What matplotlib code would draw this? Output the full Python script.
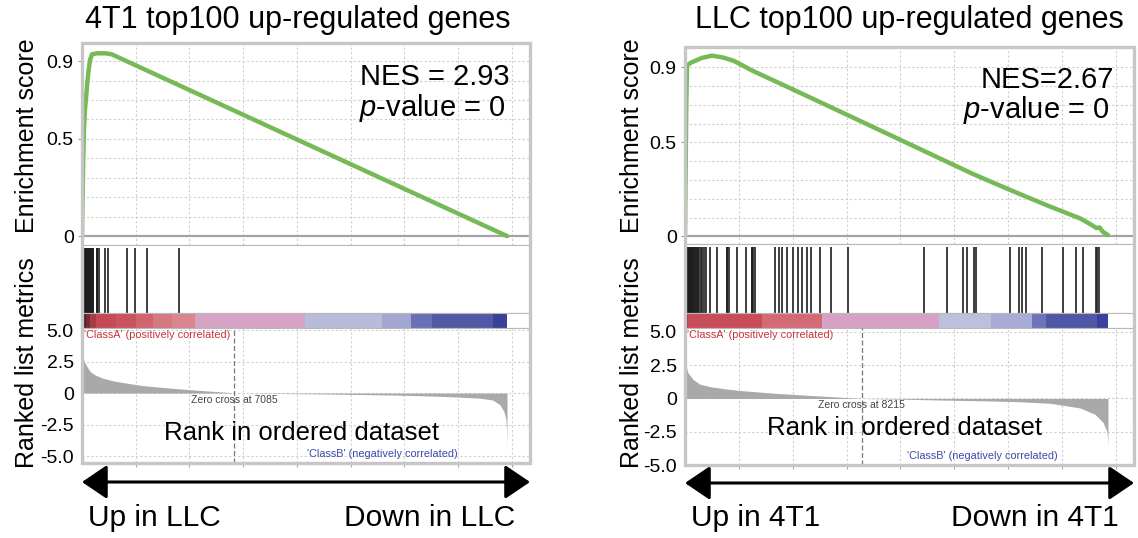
import matplotlib
matplotlib.use("Agg")
import matplotlib.pyplot as plt
from matplotlib.patches import FancyArrowPatch, Rectangle, ArrowStyle
import numpy as np

plt.rcParams["font.family"] = ["Liberation Sans", "DejaVu Sans"]
plt.rcParams["mathtext.fontset"] = "custom"
plt.rcParams["mathtext.rm"] = "Liberation Sans"
plt.rcParams["mathtext.it"] = "Liberation Sans:italic"

# ---------------- data ----------------
titles = ["4T1 top100 up-regulated genes", "LLC top100 up-regulated genes"]
nes_labels = ["NES = 2.93", "NES=2.67"]
pval_labels = [r"$p$-value = 0", r"$p$-value = 0"]
up_labels = ["Up in LLC", "Up in 4T1"]
down_labels = ["Down in LLC", "Down in 4T1"]
zero_cross = [7085, 8215]
n_genes = [19780, 19640]

# running enrichment score (rank, ES)
es_rank_a = [0, 20, 50, 90, 140, 218, 293, 372, 465, 700, 1100, 1380, 19780]
es_val_a = [0.0, 0.15, 0.35, 0.55, 0.65, 0.75, 0.84, 0.905, 0.935, 0.94, 0.94, 0.935, 0.0]
es_rank_b = [0, 30, 60, 93, 279, 789, 1254, 1765, 2275, 3111, 5108, 6733, 8405, 10077,
             11748, 13420, 15045, 16717, 18389, 18900, 19100, 19250, 19400, 19640]
es_val_b = [0.0, 0.35, 0.7, 0.91, 0.925, 0.95, 0.962, 0.952, 0.934, 0.883, 0.777, 0.69,
            0.6, 0.51, 0.42, 0.33, 0.25, 0.17, 0.094, 0.06, 0.045, 0.048, 0.025, 0.008]

# gene set hit positions in the ranked list
hits_a = [2, 8, 15, 21, 27, 34, 40, 47, 55, 61, 68, 76, 83, 90, 98, 105, 113, 120, 128,
          137, 145, 154, 162, 171, 180, 190, 199, 209, 219, 230, 241, 252, 263, 275, 288,
          300, 313, 327, 341, 356, 371, 387, 404, 421, 439, 458, 478, 498, 520, 683, 720,
          804, 1069, 1209, 2078, 2464, 3036, 4510]
hits_b = [3, 12, 25, 38, 50, 65, 80, 95, 112, 130, 150, 172, 195, 220, 248, 278, 310, 345,
          382, 420, 460, 505, 555, 610, 668, 730, 800, 870, 965, 1184, 1482, 1929, 1950,
          2064, 2428, 2843, 3094, 3120, 3178, 3262, 4175, 4343, 4511, 4758, 5010, 5261,
          5424, 5676, 5844, 6259, 6757, 7591, 11086, 12163, 12908, 13080, 13416, 13495,
          15080, 15495, 15658, 15825, 16575, 17568, 18155, 18490, 19073, 19150, 19240]

# ranked list metric (rank, value)
met_rank_a = [0, 60, 120, 233, 372, 605, 977, 1500, 2093, 2800, 3627, 4400, 5160, 5800,
              6417, 6800, 7085, 8500, 10000, 11500, 13000, 14500, 15500, 16500, 17500,
              18500, 19100, 19450, 19640, 19730, 19760, 19775, 19780]
met_val_a = [2.95, 2.75, 2.45, 2.1, 1.72, 1.44, 1.17, 0.95, 0.78, 0.6, 0.46, 0.35, 0.25,
             0.17, 0.1, 0.05, 0.0, -0.02, -0.05, -0.08, -0.12, -0.16, -0.2, -0.25, -0.32,
             -0.4, -0.55, -0.92, -1.48, -2.1, -2.8, -3.8, -5.1]
met_rank_b = [0, 60, 139, 371, 697, 1200, 1950, 2700, 3483, 4200, 5015, 5800, 6594, 7400,
              8215, 10000, 12000, 14000, 15463, 16950, 18342, 19038, 19410, 19596, 19630,
              19640]
met_val_b = [2.9, 2.4, 1.93, 1.43, 1.07, 0.88, 0.71, 0.58, 0.48, 0.39, 0.31, 0.23, 0.16,
             0.08, 0.0, -0.05, -0.12, -0.18, -0.24, -0.36, -0.71, -1.19, -1.79, -2.5,
             -3.2, -3.8]

# colour bar of the ranked list: segment starts, ends and colours
strip_start_a = [0, 90, 200, 350, 650, 1600, 2500, 3300, 4200, 5250, 10370, 13950, 15300, 16270, 19150]
strip_end_a = [90, 200, 350, 650, 1600, 2500, 3300, 4200, 5250, 10370, 13950, 15300, 16270, 19150, 19780]
strip_col_a = ["#1c1012", "#4a2026", "#7a2c36", "#a93a48", "#c54a58", "#c9535f", "#d06570",
               "#d57880", "#d98690", "#d6a3c4", "#b8bcda", "#a2a6d0", "#6870b6", "#525aa6", "#3b409a"]
strip_start_b = [0, 150, 3570, 6380, 11790, 14190, 16100, 16760, 19150]
strip_end_b = [150, 3570, 6380, 11790, 14190, 16100, 16760, 19150, 19640]
strip_col_b = ["#9a3440", "#c84d5a", "#d46a75", "#d7a1c5", "#bcc0dd", "#a9add5", "#6d74ba",
               "#4f57a7", "#3c3f9b"]

# ---------------- layout ----------------
W, H = 1138, 538
fig = plt.figure(figsize=(W / 100, H / 100), dpi=100)


def fx(px):
    return px / W


def fy(py):
    return 1 - py / H


def add_ax(x0, x1, top, bot):
    return fig.add_axes([fx(x0), fy(bot), fx(x1) - fx(x0), (bot - top) / H])


XMAX = 20850
GRID_X = np.arange(2500, XMAX, 2500)
GRID_KW = dict(color="#cfcfcf", lw=0.8, linestyle=(0, (2, 2)), zorder=0)
SPINE_C = "#b8b8b8"

panels = [
    dict(x0=82, x1=530, es_top=43, es_bot=245, hit_bot=312.7, strip_bot=328, met_bot=463,
         es_ylim=(-0.046, 0.993), met_ylim=(-5.55, 5.16), ylab_x=27, title_x=298,
         es=(es_rank_a, es_val_a), hits=hits_a, met=(met_rank_a, met_val_a),
         strip=(strip_start_a, strip_end_a, strip_col_a),
         classb_x=307, rank_y=433, arrow_y=482),
    dict(x0=685, x1=1134, es_top=47, es_bot=244, hit_bot=312.7, strip_bot=328, met_bot=465,
         es_ylim=(-0.040, 1.008), met_ylim=(-5.0, 5.3), ylab_x=632, title_x=909,
         es=(es_rank_b, es_val_b), hits=hits_b, met=(met_rank_b, met_val_b),
         strip=(strip_start_b, strip_end_b, strip_col_b),
         classb_x=907, rank_y=428, arrow_y=483),
]

for i, p in enumerate(panels):
    x0, x1 = p["x0"], p["x1"]

    # enrichment score panel
    ax = add_ax(x0, x1, p["es_top"], p["es_bot"])
    ax.set_xlim(0, XMAX)
    ax.set_ylim(*p["es_ylim"])
    for gx in GRID_X:
        ax.axvline(gx, **GRID_KW)
    for gy in np.arange(0.1, 0.95, 0.1):
        ax.axhline(gy, **GRID_KW)
    ax.axhline(0, color="#a4a4a4", lw=1.6, zorder=1)
    ax.plot(p["es"][0], p["es"][1], color="#76ba58", lw=3.2, solid_capstyle="round",
            solid_joinstyle="round", zorder=3)
    ax.set_xticks([])
    ax.set_yticks([0, 0.5, 0.9])
    ax.set_yticklabels(["0", "0.5", "0.9"])
    ax.tick_params(axis="y", length=3, color="#999999", labelsize=14, pad=3)
    for s in ax.spines.values():
        s.set_color(SPINE_C)
    ax.text(0.955, 0.83, nes_labels[i], transform=ax.transAxes, ha="right", va="center",
            fontsize=21)
    ax.text(0.945, 0.68, pval_labels[i], transform=ax.transAxes, ha="right", va="center",
            fontsize=21)

    # hit markers
    axh = add_ax(x0, x1, p["es_bot"], p["hit_bot"])
    axh.set_xlim(0, XMAX)
    axh.set_ylim(0, 1)
    axh.vlines(p["hits"], 0, 0.955, color="#1e1e1e", lw=1.2)
    axh.set_xticks([])
    axh.set_yticks([])
    for s in axh.spines.values():
        s.set_color(SPINE_C)

    # coloured rank strip
    axs = add_ax(x0, x1, p["hit_bot"], p["strip_bot"])
    axs.set_xlim(0, XMAX)
    axs.set_ylim(0, 1)
    for s0, s1, c in zip(*p["strip"]):
        axs.axvspan(s0, s1, color=c, lw=0)
    axs.set_xticks([])
    axs.set_yticks([])
    for s in axs.spines.values():
        s.set_color(SPINE_C)

    # ranked list metric
    axm = add_ax(x0, x1, p["strip_bot"], p["met_bot"])
    axm.set_xlim(0, XMAX)
    axm.set_ylim(*p["met_ylim"])
    for gx in GRID_X:
        axm.axvline(gx, **GRID_KW)
    for gy in [5.0, 2.5, 0, -2.5, -5.0]:
        axm.axhline(gy, **GRID_KW)
    axm.fill_between(p["met"][0], p["met"][1], 0, color="#a9a9a9", lw=0, zorder=2)
    axm.axvline(zero_cross[i], color="#777777", lw=0.9, linestyle=(0, (4, 2)), zorder=3)
    axm.set_yticks([5.0, 2.5, 0, -2.5, -5.0])
    axm.set_yticklabels(["5.0", "2.5", "0", "-2.5", "-5.0"])
    axm.set_xticks(GRID_X)
    axm.tick_params(axis="y", length=0, labelsize=14, pad=6)
    axm.tick_params(axis="x", length=3, color="#aaaaaa", labelbottom=False)
    for s in axm.spines.values():
        s.set_color(SPINE_C)
    axm.text(zero_cross[i], -0.12, "Zero cross at %d" % zero_cross[i], ha="center",
             va="top", fontsize=7.5, color="#444444", zorder=4)

    # outer frame
    fig.patches.append(Rectangle((fx(x0), fy(p["met_bot"])), fx(x1) - fx(x0),
                                 (p["met_bot"] - p["es_top"]) / H, transform=fig.transFigure,
                                 fill=False, ec="#c6c6c6", lw=2.4, zorder=10))

    # class captions
    fig.text(fx(x0 + 2), fy(p["strip_bot"] + 7), "'ClassA' (positively correlated)",
             fontsize=7.8, color="#c8323e", ha="left", va="center")
    fig.text(fx(p["classb_x"]), fy(p["met_bot"] - 9), "'ClassB' (negatively correlated)",
             fontsize=7.8, color="#3c48a8", ha="left", va="center")
    fig.text(fx((x0 + x1) / 2 - 5), fy(p["rank_y"]), "Rank in ordered dataset",
             fontsize=18.5, ha="center", va="center")

    # titles and axis captions
    fig.text(fx(p["title_x"]), fy(20), titles[i], fontsize=22, ha="center", va="center")
    fig.text(fx(p["ylab_x"]), fy(136), "Enrichment score", rotation=90, fontsize=18,
             ha="center", va="center")
    fig.text(fx(p["ylab_x"]), fy(363), "Ranked list metrics", rotation=90, fontsize=18,
             ha="center", va="center")

    # direction arrow
    arr = FancyArrowPatch((fx(x0), fy(p["arrow_y"])), (fx(x1), fy(p["arrow_y"])),
                          transform=fig.transFigure,
                          arrowstyle=ArrowStyle("<|-|>", head_length=15.5, head_width=10.5),
                          mutation_scale=1, lw=2.2, color="black", shrinkA=0, shrinkB=0)
    fig.patches.append(arr)
    fig.text(fx(x0 + 6), fy(518), up_labels[i], fontsize=21.5, ha="left", va="center")
    fig.text(fx(x1 - 15), fy(518), down_labels[i], fontsize=21.5, ha="right", va="center")

fig.savefig("out.png", dpi=100)
